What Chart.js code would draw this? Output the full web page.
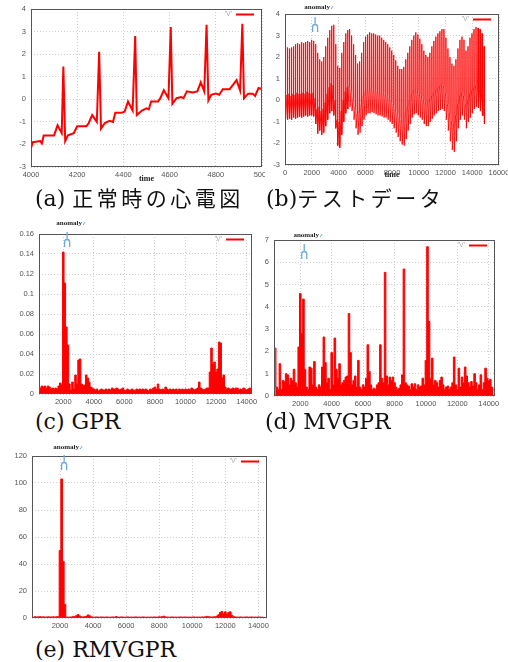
<!DOCTYPE html>
<html>
<head>
<meta charset="utf-8">
<script src="https://cdn.jsdelivr.net/npm/chart.js@4.4.0/dist/chart.umd.min.js"></script>
<style>
    body { margin: 0; background: #fff; width: 508px; height: 662px; position: relative; overflow: hidden; }
    canvas { position: absolute; }
    .cap {
        position: absolute; white-space: nowrap; color: #111;
        font-family: "DejaVu Serif", serif; font-size: 22px; line-height: 24px;
    }
    .cap .lat { font-family: "DejaVu Serif", serif; }
    .cap .jp { font-family: "Noto Sans CJK JP", sans-serif; font-size: 21px; letter-spacing: 3.5px; }
</style>
</head>
<body>
<canvas id="ecg" width="265" height="184" style="left:0;top:0"></canvas>
<canvas id="test" width="246" height="180" style="left:262px;top:0"></canvas>
<canvas id="gpr" width="262" height="200" style="left:0;top:208px"></canvas>
<canvas id="mvgpr" width="246" height="200" style="left:262px;top:208px"></canvas>
<canvas id="rmvgpr" width="280" height="196" style="left:0;top:436px"></canvas>

<div class="cap" style="left:35px;top:185px"><span class="lat">(a)&nbsp;</span><span class="jp">正常時の心電図</span></div>
<div class="cap" style="left:266px;top:185px"><span class="lat">(b)</span><span class="jp">テストデータ</span></div>
<div class="cap" style="left:35px;top:410px">(c) GPR</div>
<div class="cap" style="left:265px;top:410px">(d) MVGPR</div>
<div class="cap" style="left:35px;top:638px">(e) RMVGPR</div>

<script>
// (a) normal ECG, 4000-5000
const aTime = [4000, 4008, 4040, 4047, 4055, 4100, 4115, 4133, 4140, 4148,
    4160, 4185, 4200, 4240, 4250, 4265, 4285, 4295, 4303, 4320,
    4340, 4355, 4365, 4390, 4405, 4420, 4440, 4451, 4458, 4480,
    4500, 4510, 4520, 4550, 4560, 4575, 4595, 4605, 4612, 4630,
    4650, 4660, 4675, 4700, 4720, 4735, 4750, 4760, 4768, 4780,
    4800, 4815, 4830, 4860, 4890, 4905, 4915, 4922, 4940, 4960,
    4970, 4985, 5000];
const aValue = [-2.15, -1.9, -1.85, -1.95, -1.6, -1.6, -1.15, -1.5, 1.45, -1.85,
    -1.6, -1.5, -1.2, -1.2, -1.05, -0.7, -1.0, 2.1, -1.3, -1.05,
    -0.95, -1.0, -0.6, -0.6, -0.55, -0.1, -0.5, 2.8, -0.7, -0.5,
    -0.4, -0.45, -0.1, -0.1, 0.05, 0.4, 0.05, 3.2, -0.2, 0.05,
    0.1, 0.05, 0.35, 0.3, 0.35, 0.75, 0.35, 3.3, -0.05, 0.2,
    0.25, 0.2, 0.45, 0.45, 0.85, 0.4, 3.35, 0.05, 0.25, 0.25,
    0.15, 0.5, 0.45];
const aXTicks = [4000, 4200, 4400, 4600, 4800, 5000];
const signalYTicks = [-3, -2, -1, 0, 1, 2, 3, 4];

// (b) test data, one beat every 150 samples: T-wave top, R peak, S trough
const beatStep = 150;
const bPeak = [2.5, 2.45, 2.4, 2.45, 2.5, 2.6, 2.65, 2.6, 2.7, 2.65,
    2.7, 2.75, 2.7, 2.8, 2.75, 2.6, 2.2, 1.9, 1.8, 2.0,
    2.5, 2.9, 3.25, 3.45, 3.5, 2.6, 1.6, 1.5, 2.2, 2.7,
    3.1, 3.25, 3.3, 3.0, 2.6, 2.1, 1.7, 1.8, 2.2, 2.7,
    2.95, 3.05, 3.15, 3.1, 3.1, 3.05, 3.0, 3.0, 2.9, 2.8,
    2.7, 2.6, 2.45, 2.3, 2.1, 1.85, 1.6, 1.45, 1.45, 1.55,
    1.9, 2.2, 2.5, 2.8, 3.0, 3.15, 3.05, 2.85, 2.6, 2.3,
    2.1, 2.0, 2.2, 2.5, 2.75, 2.95, 3.1, 3.2, 3.3, 3.3,
    2.9, 2.4, 2.0, 1.7, 1.6, 1.9, 2.4, 2.8, 2.95, 2.8,
    2.3, 2.5, 2.9, 3.1, 3.3, 3.4, 3.35, 3.3, 3.1, 2.5];
const bTrough = [-0.85, -0.9, -0.85, -0.9, -0.8, -0.85, -0.8, -0.75, -0.8, -0.75,
    -0.7, -0.75, -0.7, -0.7, -0.75, -1.1, -1.55, -1.4, -1.6, -1.5,
    -1.2, -0.9, -0.6, -0.5, -0.7, -1.3, -2.1, -2.2, -1.6, -1.0,
    -0.6, -0.4, -0.3, -0.5, -0.9, -1.3, -1.6, -1.5, -1.2, -0.9,
    -0.7, -0.6, -0.6, -0.55, -0.6, -0.65, -0.7, -0.7, -0.75, -0.8,
    -0.8, -0.9, -1.0, -1.1, -1.3, -1.5, -1.7, -1.9, -2.05, -2.1,
    -1.8, -1.4, -1.1, -0.8, -0.65, -0.6, -0.7, -0.8, -0.9, -1.1,
    -1.2, -1.2, -1.0, -0.85, -0.7, -0.6, -0.5, -0.45, -0.4, -0.5,
    -0.9, -1.4, -1.9, -2.3, -2.4, -1.9, -1.3, -0.9, -0.7, -0.9,
    -1.3, -1.0, -0.8, -0.6, -0.4, -0.3, -0.35, -0.5, -0.7, -1.1];
const bMid = [0.2, 0.25, 0.3, 0.2, 0.3, 0.25, 0.35, 0.3, 0.3, 0.35,
    0.3, 0.4, 0.35, 0.3, 0.35, 0.1, -0.4, -0.3, -0.5, -0.4,
    -0.1, 0.3, 0.6, 0.8, 0.7, 0.0, -0.9, -1.0, -0.5, 0.0,
    0.4, 0.6, 0.7, 0.5, 0.1, -0.3, -0.6, -0.5, -0.2, 0.2,
    0.4, 0.5, 0.5, 0.55, 0.5, 0.5, 0.45, 0.4, 0.4, 0.35,
    0.3, 0.25, 0.1, 0.0, -0.2, -0.4, -0.6, -0.8, -0.9, -0.9,
    -0.6, -0.3, 0.0, 0.3, 0.45, 0.5, 0.45, 0.3, 0.2, 0.0,
    -0.1, -0.1, 0.05, 0.2, 0.35, 0.45, 0.55, 0.65, 0.7, 0.65,
    0.3, -0.2, -0.6, -1.0, -1.1, -0.7, -0.2, 0.2, 0.35, 0.2,
    -0.2, 0.0, 0.3, 0.45, 0.6, 0.7, 0.65, 0.5, 0.3, -0.7];
const bXTicks = [0, 2000, 4000, 6000, 8000, 10000, 12000, 14000, 16000];

// (c)-(e) anomaly scores, sampled every 100 from 400
const scoreStart = 400;
const scoreStep = 100;
const gprScore = [
    0.003, 0.006, 0.008, 0.007, 0.008, 0.006, 0.008, 0.007, 0.005, 0.006,
    0.005, 0.006, 0.005, 0.008, 0.011, 0.009, 0.142, 0.111, 0.067, 0.049,
    0.010, 0.004, 0.012, 0.005, 0.019, 0.010, 0.034, 0.035, 0.010, 0.008,
    0.009, 0.019, 0.016, 0.012, 0.007, 0.006, 0.005, 0.004, 0.005, 0.003,
    0.004, 0.005, 0.004, 0.004, 0.005, 0.004, 0.005, 0.004, 0.006, 0.005,
    0.005, 0.006, 0.005, 0.004, 0.005, 0.006, 0.004, 0.003, 0.005, 0.004,
    0.004, 0.005, 0.004, 0.003, 0.005, 0.004, 0.005, 0.004, 0.005, 0.004,
    0.005, 0.004, 0.003, 0.005, 0.004, 0.006, 0.007, 0.005, 0.010, 0.005,
    0.004, 0.005, 0.004, 0.007, 0.005, 0.004, 0.005, 0.004, 0.005, 0.004,
    0.005, 0.003, 0.005, 0.004, 0.005, 0.004, 0.005, 0.004, 0.005, 0.004,
    0.006, 0.005, 0.004, 0.005, 0.006, 0.012, 0.006, 0.005, 0.004, 0.005,
    0.006, 0.006, 0.022, 0.046, 0.030, 0.032, 0.022, 0.025, 0.052, 0.051,
    0.016, 0.019, 0.007, 0.005, 0.006, 0.005, 0.005, 0.006, 0.005, 0.006,
    0.006, 0.004, 0.005, 0.004, 0.006, 0.005, 0.004, 0.005, 0.006, 0.004];
const mvgprScore = [
    2.15, 0.4, 0.3, 1.45, 0.3, 0.7, 0.65, 1.0, 0.95, 0.5,
    0.8, 0.7, 1.2, 0.6, 0.4, 2.2, 4.6, 2.8, 4.35, 1.2,
    0.4, 0.3, 1.3, 1.25, 0.5, 1.55, 0.4, 0.3, 0.5, 0.4,
    1.3, 2.65, 1.5, 0.6, 0.8, 0.3, 1.95, 0.5, 2.6, 1.2,
    0.8, 1.45, 0.5, 0.6, 0.7, 0.85, 0.9, 3.7, 1.95, 0.5,
    0.7, 0.9, 0.4, 1.6, 0.4, 0.3, 0.5, 0.4, 0.8, 2.3,
    1.1, 0.5, 0.3, 0.35, 0.3, 0.5, 0.6, 2.3, 0.8, 0.6,
    5.55, 0.9, 0.5, 0.85, 0.7, 0.85, 0.6, 0.4, 0.3, 0.35,
    0.5, 0.95, 5.7, 0.6, 0.5, 0.45, 0.3, 0.55, 0.4, 0.55,
    0.3, 0.5, 0.4, 0.45, 0.8, 0.5, 1.6, 6.7, 3.35, 0.8,
    1.7, 0.5, 0.7, 0.6, 0.4, 0.7, 0.85, 0.5, 0.3, 0.4,
    0.45, 0.3, 0.4, 0.6, 1.75, 0.5, 0.3, 1.25, 0.4, 0.85,
    0.6, 1.3, 0.9, 0.6, 0.4, 0.65, 0.45, 1.0, 0.6, 0.3,
    0.5, 0.95, 0.3, 0.6, 1.25, 0.8, 0.7, 0.75, 0.4, 0.3];
const rmvgprScore = [
    0.8, 1.0, 0.7, 0.9, 1.0, 0.8, 0.9, 0.7, 0.8, 0.9,
    0.7, 0.8, 0.9, 0.7, 1.0, 1.2, 50, 103, 42, 10,
    0.8, 0.6, 0.7, 0.8, 1.2, 1.0, 1.8, 2.6, 1.5, 0.9,
    0.8, 1.0, 1.4, 2.3, 1.6, 0.9, 0.7, 0.6, 0.8, 0.7,
    0.6, 0.8, 0.7, 0.6, 0.8, 0.7, 0.6, 0.7, 0.8, 0.6,
    1.1, 0.7, 0.6, 0.8, 0.7, 0.6, 0.7, 0.8, 0.6, 0.7,
    0.6, 0.7, 0.8, 0.6, 0.7, 0.6, 0.8, 0.7, 0.6, 0.7,
    0.6, 0.7, 0.6, 0.8, 0.7, 0.6, 0.9, 0.8, 1.2, 1.3,
    0.8, 0.7, 0.6, 0.7, 0.8, 0.6, 0.7, 0.6, 0.7, 0.8,
    0.6, 0.7, 0.8, 0.6, 0.7, 0.6, 0.7, 0.8, 0.6, 0.7,
    0.7, 0.6, 0.8, 0.7, 0.9, 1.2, 1.0, 0.8, 0.7, 0.9,
    1.0, 1.5, 2.5, 4.2, 4.8, 3.0, 4.6, 2.8, 4.2, 4.6,
    2.0, 1.2, 0.8, 0.7, 0.6, 0.8, 0.7, 0.6, 0.7, 0.8,
    0.6, 0.7, 0.8, 0.6, 0.7, 0.6, 0.8, 0.7, 0.6, 0.7];
const scoreXTicks = [2000, 4000, 6000, 8000, 10000, 12000, 14000];
const gprYTicks = [0, 0.02, 0.04, 0.06, 0.08, 0.1, 0.12, 0.14, 0.16];
const mvgprYTicks = [0, 1, 2, 3, 4, 5, 6, 7];
const rmvgprYTicks = [0, 20, 40, 60, 80, 100, 120];

const anomalyTime = 2250;
const seriesLabel = "'V'";

/**
 * gnuplot-like frame, key and anomaly marker
 */
const panelDecor = {
    id: 'panelDecor',
    afterDatasetsDraw(chart, args, opts) {
        const { ctx, chartArea: a, scales } = chart;
        ctx.save();
        ctx.strokeStyle = '#555';
        ctx.lineWidth = 1;
        ctx.strokeRect(a.left + 0.5, a.top + 0.5, a.right - a.left - 1, a.bottom - a.top - 1);

        // key
        ctx.font = '7px "Liberation Sans"';
        ctx.fillStyle = '#aaa';
        ctx.textAlign = 'right';
        ctx.textBaseline = 'middle';
        ctx.fillText(seriesLabel, a.right - 30, a.top + 5);
        ctx.strokeStyle = '#ff0000';
        ctx.lineWidth = 2;
        ctx.beginPath();
        ctx.moveTo(a.right - 26, a.top + 5.5);
        ctx.lineTo(a.right - 8, a.top + 5.5);
        ctx.stroke();

        if (opts.anomaly) {
            const x = scales.x.getPixelForValue(anomalyTime);
            ctx.strokeStyle = '#6fa8dc';
            ctx.lineWidth = 1.3;
            ctx.beginPath();
            ctx.moveTo(x, a.top + opts.markTop);
            ctx.lineTo(x, a.top + opts.markTop + 7);
            ctx.moveTo(x - 2.5, a.top + opts.markTop + 15);
            ctx.lineTo(x - 2.5, a.top + opts.markTop + 10);
            ctx.arc(x, a.top + opts.markTop + 10, 2.5, Math.PI, 0);
            ctx.lineTo(x + 2.5, a.top + opts.markTop + 15);
            ctx.stroke();

            ctx.font = 'bold 7px "Liberation Serif"';
            ctx.fillStyle = '#222';
            ctx.textAlign = 'center';
            ctx.fillText('anomaly', x + 2, a.top - opts.labelDy);
            ctx.strokeStyle = '#6fa8dc';
            ctx.lineWidth = 1;
            ctx.beginPath();
            ctx.moveTo(x + 16, a.top - opts.labelDy + 2);
            ctx.lineTo(x + 18, a.top - opts.labelDy - 1);
            ctx.stroke();
        }
        ctx.restore();
    }
};

const Figure = {
    instances: {},

    /**
     * Build both axes with a fixed plot box
     */
    axes(o) {
        const tickFont = { family: 'Liberation Sans', size: 7.5 };
        const grid = { color: '#cfcfcf', drawTicks: false };
        const border = { display: false, dash: [1, 2] };
        const x = {
            type: 'linear',
            min: o.xMin,
            max: o.xMax,
            grid: grid,
            border: border,
            afterBuildTicks: s => { s.ticks = o.xTicks.map(v => ({ value: v })); },
            afterFit: s => { s.height = o.xHeight; s.paddingLeft = 0; s.paddingRight = 0; },
            ticks: { font: tickFont, color: '#555', padding: 3, autoSkip: false, maxRotation: 0, callback: v => String(v) }
        };
        if (o.xTitle) {
            x.title = { display: true, text: o.xTitle, padding: 0, color: '#222',
                font: { family: 'Liberation Serif', size: 8, weight: 'bold' } };
        }
        const y = {
            type: 'linear',
            min: o.yMin,
            max: o.yMax,
            grid: grid,
            border: border,
            afterBuildTicks: s => { s.ticks = o.yTicks.map(v => ({ value: v })); },
            afterFit: s => { s.width = o.yWidth; s.paddingTop = 0; s.paddingBottom = 0; },
            ticks: { font: tickFont, color: '#555', padding: 5, autoSkip: false, callback: v => String(v) }
        };
        return { x, y };
    },

    create(canvasId, points, o) {
        const ctx = document.getElementById(canvasId);
        this.instances[canvasId] = new Chart(ctx, {
            type: 'line',
            data: {
                datasets: [{
                    data: points,
                    borderColor: '#ff0000',
                    backgroundColor: '#ff0000',
                    borderWidth: o.lineWidth,
                    pointRadius: 0,
                    fill: o.fill ? 'origin' : false,
                    stepped: o.fill ? 'middle' : false,
                    tension: 0
                }]
            },
            options: {
                responsive: false,
                animation: false,
                devicePixelRatio: 1,
                layout: { padding: { top: o.padTop, right: o.padRight, left: 0, bottom: 0 } },
                plugins: {
                    legend: { display: false },
                    tooltip: { enabled: false },
                    panelDecor: { anomaly: o.anomaly, markTop: o.markTop || 2, labelDy: o.labelDy || 8 }
                },
                scales: this.axes(o)
            },
            plugins: [panelDecor]
        });
        return this.instances[canvasId];
    }
};

const ecgPoints = aTime.map((t, i) => ({ x: t, y: aValue[i] }));

// each beat: T-wave top, then a narrow R spike and S trough
const testPoints = [];
bPeak.forEach((p, i) => {
    const t = i * beatStep;
    testPoints.push({ x: t, y: bMid[i] });
    testPoints.push({ x: t + 30, y: p });
    testPoints.push({ x: t + 60, y: bTrough[i] });
});

const scorePoints = values => values.map((v, i) => ({ x: scoreStart + i * scoreStep, y: v }));

Figure.create('ecg', ecgPoints, {
    xMin: 4000, xMax: 5000, xTicks: aXTicks, yMin: -3, yMax: 4, yTicks: signalYTicks,
    xTitle: 'time', yWidth: 31, xHeight: 17, padTop: 9, padRight: 3, lineWidth: 2
});
Figure.create('test', testPoints, {
    xMin: 0, xMax: 16000, xTicks: bXTicks, yMin: -3, yMax: 4, yTicks: signalYTicks,
    xTitle: 'time', yWidth: 23, xHeight: 15, padTop: 14, padRight: 9, lineWidth: 0.9,
    anomaly: true, markTop: 3, labelDy: 7
});
Figure.create('gpr', scorePoints(gprScore), {
    xMin: 410, xMax: 14350, xTicks: scoreXTicks, yMin: 0, yMax: 0.16, yTicks: gprYTicks,
    yWidth: 39, xHeight: 14, padTop: 26, padRight: 10, lineWidth: 1, fill: true,
    anomaly: true, markTop: -2, labelDy: 11
});
Figure.create('mvgpr', scorePoints(mvgprScore), {
    xMin: 325, xMax: 14400, xTicks: scoreXTicks, yMin: 0, yMax: 7, yTicks: mvgprYTicks,
    yWidth: 12, xHeight: 12, padTop: 32, padRight: 13, lineWidth: 1, fill: true,
    anomaly: true, markTop: 4, labelDy: 5
});
Figure.create('rmvgpr', scorePoints(rmvgprScore), {
    xMin: 306, xMax: 14520, xTicks: scoreXTicks, yMin: 0, yMax: 120, yTicks: rmvgprYTicks,
    yWidth: 32, xHeight: 14, padTop: 20, padRight: 13, lineWidth: 1, fill: true,
    anomaly: true, markTop: -1, labelDy: 9
});
</script>
</body>
</html>
